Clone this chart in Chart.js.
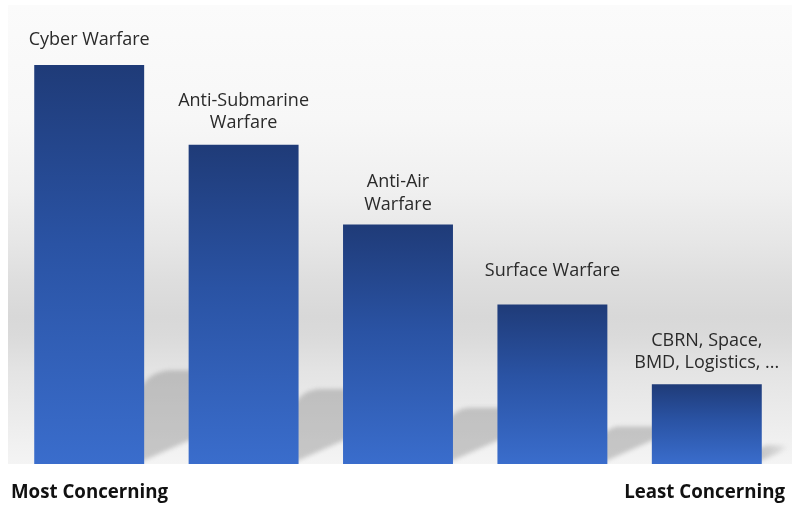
<!DOCTYPE html>
<html>
<head>
<meta charset="utf-8">
<script src="https://cdn.jsdelivr.net/npm/chart.js@4/dist/chart.umd.min.js"></script>
<style>
  html, body { margin: 0; padding: 0; background: #ffffff; }
  #wrap { width: 792px; height: 508px; position: relative; }
</style>
</head>
<body>
<div id="wrap"><canvas id="c" width="792" height="508"></canvas></div>
<script>
// ---- data ----
const categories = [
  ['Cyber Warfare'],
  ['Anti-Submarine', 'Warfare'],
  ['Anti-Air', 'Warfare'],
  ['Surface Warfare'],
  ['CBRN, Space,', 'BMD, Logistics, ...']
];
const concernLevel = [5, 4, 3, 2, 1];
const axisEndLabels = ['Most Concerning', 'Least Concerning'];

const LABEL_FONT = '18px "Open Sans", "Noto Sans", sans-serif';
const END_FONT = 'bold 18.7px "Open Sans", "Noto Sans", sans-serif';
// gap (px) between the last label line's baseline and the bar top, as in the original slide
const LABEL_GAPS = [19.6, 17, 15, 28.7, 16];

const backgroundPlugin = {
  id: 'bgPanel',
  beforeDraw(chart) {
    const ctx = chart.ctx;
    ctx.save();
    ctx.fillStyle = '#ffffff';
    ctx.fillRect(0, 0, chart.width, chart.height);
    const top = 5, bottom = chart.chartArea.bottom;
    const g = ctx.createLinearGradient(0, top, 0, bottom);
    g.addColorStop(0.00, '#fbfbfb');
    g.addColorStop(0.25, '#f7f7f7');
    g.addColorStop(0.40, '#f0f0f0');
    g.addColorStop(0.52, '#e6e6e6');
    g.addColorStop(0.60, '#dedede');
    g.addColorStop(0.68, '#d8d8d8');
    g.addColorStop(0.72, '#dadada');
    g.addColorStop(0.80, '#e4e4e4');
    g.addColorStop(0.90, '#ececec');
    g.addColorStop(1.00, '#f4f4f4');
    ctx.fillStyle = g;
    ctx.fillRect(8, top, chart.width - 8, bottom - top);
    ctx.restore();
  }
};

const shadowPlugin = {
  id: 'barShadows',
  beforeDatasetsDraw(chart) {
    const ctx = chart.ctx;
    const meta = chart.getDatasetMeta(0);
    const n = meta.data.length;
    ctx.save();
    ctx.beginPath();
    ctx.rect(8, 5, chart.width - 8, chart.chartArea.bottom - 5);
    ctx.clip();
    ctx.filter = 'blur(2px)';
    meta.data.forEach((bar, i) => {
      const w = bar.width;
      const right = bar.x + w / 2;
      const base = bar.base;
      const h = base - bar.y;
      const sh = 0.235 * h;
      const W = 48;
      ctx.beginPath();
      ctx.moveTo(right - 6, base - 1);
      ctx.lineTo(right + W, base - 1 - W * 0.5);
      ctx.lineTo(right + W, base - sh);
      ctx.lineTo(right + 0.3 * sh, base - sh);
      ctx.quadraticCurveTo(right + 4, base - sh, right - 6, base - 0.76 * sh);
      ctx.closePath();
      if (i === n - 1) {
        const g = ctx.createLinearGradient(right, 0, right + 26, 0);
        g.addColorStop(0, 'rgba(110,110,110,0.33)');
        g.addColorStop(0.6, 'rgba(110,110,110,0.2)');
        g.addColorStop(1, 'rgba(110,110,110,0)');
        ctx.fillStyle = g;
      } else {
        ctx.fillStyle = 'rgba(110,110,110,0.33)';
      }
      ctx.fill();
    });
    ctx.restore();
  }
};

const labelPlugin = {
  id: 'barLabels',
  afterDatasetsDraw(chart) {
    const ctx = chart.ctx;
    const meta = chart.getDatasetMeta(0);
    ctx.save();
    ctx.font = LABEL_FONT;
    ctx.fillStyle = '#2a2a2a';
    ctx.textAlign = 'center';
    ctx.textBaseline = 'alphabetic';
    const lineH = 22.3;
    meta.data.forEach((bar, i) => {
      const lines = categories[i];
      const lastBase = bar.y - LABEL_GAPS[i];
      lines.forEach((t, k) => {
        const yy = lastBase - (lines.length - 1 - k) * lineH;
        ctx.fillText(t, bar.x, yy);
      });
    });
    // axis end labels
    ctx.font = END_FONT;
    ctx.fillStyle = '#111111';
    ctx.textAlign = 'left';
    ctx.fillText(axisEndLabels[0], 11, 498);
    ctx.textAlign = 'right';
    ctx.fillText(axisEndLabels[1], 785, 498);
    ctx.restore();
  }
};

function barGradient(context) {
  const chart = context.chart;
  const yScale = chart.scales.y;
  if (!yScale || !chart.chartArea) return '#2a56a8';
  const v = context.raw;
  const yTop = yScale.getPixelForValue(v);
  const yBot = yScale.getPixelForValue(0);
  if (!isFinite(yTop) || !isFinite(yBot) || yTop === yBot) return '#2a56a8';
  const g = chart.ctx.createLinearGradient(0, yTop, 0, yBot);
  g.addColorStop(0, '#1f3b78');
  g.addColorStop(0.45, '#2a53a4');
  g.addColorStop(1, '#3a6dcc');
  return g;
}

new Chart(document.getElementById('c'), {
  type: 'bar',
  data: {
    labels: categories,
    datasets: [{
      data: concernLevel,
      backgroundColor: barGradient,
      borderWidth: 0,
      barPercentage: 0.712,
      categoryPercentage: 1.0
    }]
  },
  options: {
    responsive: false,
    animation: false,
    events: [],
    layout: { padding: { left: 12, right: 8, top: 65, bottom: 44 } },
    plugins: {
      legend: { display: false },
      tooltip: { enabled: false },
      title: { display: false }
    },
    scales: {
      x: { display: false },
      y: { display: false, min: 0, max: 5 }
    }
  },
  plugins: [backgroundPlugin, shadowPlugin, labelPlugin]
});
</script>
</body>
</html>
